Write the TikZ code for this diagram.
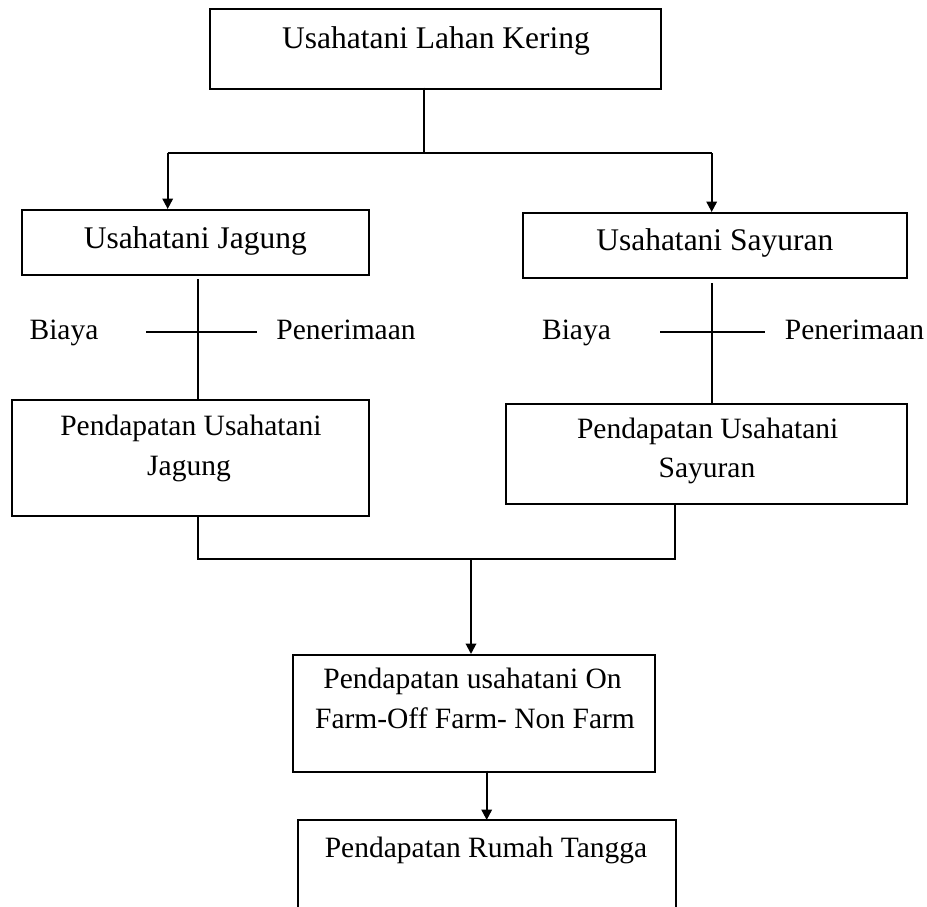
\documentclass[tikz,border=0pt]{standalone}
\usepackage{fontspec}
\setmainfont{Liberation Serif}
\usetikzlibrary{arrows.meta}
\begin{document}
\begin{tikzpicture}[x=1pt,y=-1pt,
  box/.style={draw, line width=2pt, rectangle, inner sep=0pt, anchor=north west},
  txt/.style={inner sep=0pt, anchor=base, font=\fontsize{29.5}{36}\selectfont},
  bigtxt/.style={inner sep=0pt, anchor=base, font=\fontsize{31.5}{38}\selectfont},
  conn/.style={line width=2pt},
  arr/.style={line width=2pt, -{Triangle[length=10.5pt,width=10.5pt]}}]
\useasboundingbox (0,0) rectangle (927,907);
% boxes
\node[box, minimum width=451pt, minimum height=79.4pt] (b1) at (209,8.3) {};
\node[box, minimum width=347.3pt, minimum height=65pt] (b2) at (20.7,209) {};
\node[box, minimum width=384.6pt, minimum height=65pt] (b3) at (521.7,212) {};
\node[box, minimum width=357.3pt, minimum height=116pt] (b4) at (10.7,399) {};
\node[box, minimum width=401pt, minimum height=100.3pt] (b5) at (505,402.7) {};
\node[box, minimum width=362.3pt, minimum height=116.7pt] (b6) at (291.7,654) {};
\node[box, draw=none, minimum width=376.3pt, minimum height=87pt] (b7) at (297.7,820) {};
\draw[conn] (b7.south west) -- (b7.north west) -- (b7.north east) -- (b7.south east);
% texts
\node[bigtxt] (t1) at (436,48.3) {Usahatani Lahan Kering};
\node[bigtxt] (t2) at (195.3,248.3) {Usahatani Jagung};
\node[bigtxt] (t3) at (714.8,250) {Usahatani Sayuran};
\node[txt] (bl) at (64,339) {Biaya};
\node[txt] (pl) at (346,339) {Penerimaan};
\node[txt] (br) at (576.5,339) {Biaya};
\node[txt] (pr) at (854.5,339) {Penerimaan};
\node[txt] (t4a) at (191,435) {Pendapatan Usahatani};
\node[txt] (t4b) at (189,475) {Jagung};
\node[txt] (t5a) at (707.7,438) {Pendapatan Usahatani};
\node[txt] (t5b) at (707,477) {Sayuran};
\node[txt] (t6a) at (472.5,688) {Pendapatan usahatani On};
\node[txt] (t6b) at (475,728) {Farm-Off Farm- Non Farm};
\node[txt] (t7) at (486,857) {Pendapatan Rumah Tangga};
% coordinates
\coordinate (s1) at (424,87.7);
\coordinate (j1) at (424,153);
\coordinate (jl) at (167.7,153);
\coordinate (jr) at (711.7,153);
\coordinate (v2a) at (198,279);
\coordinate (v2b) at (198,399);
\coordinate (c2l) at (146,332.3);
\coordinate (c2r) at (257,332.3);
\coordinate (v3a) at (712,283);
\coordinate (v3b) at (712,402.7);
\coordinate (c3l) at (660,332.3);
\coordinate (c3r) at (765,332.3);
\coordinate (m4) at (198,515);
\coordinate (m4b) at (198,559);
\coordinate (m5) at (674.7,503);
\coordinate (m5b) at (674.7,559);
\coordinate (mj) at (471,559);
\coordinate (d6) at (486.7,770.7);
% connectors
\draw[conn] (s1) -- (j1);
\draw[conn] (jl) -- (jr);
\draw[arr] (jl) -- (jl |- b2.north);
\draw[arr] (jr) -- (jr |- b3.north);
\draw[conn] (v2a) -- (v2b);
\draw[conn] (c2l) -- (c2r);
\draw[conn] (v3a) -- (v3b);
\draw[conn] (c3l) -- (c3r);
\draw[conn] (m4) -- (m4b) -- (m5b) -- (m5);
\draw[arr] (mj) -- (mj |- b6.north);
\draw[arr] (d6) -- (d6 |- b7.north);
\end{tikzpicture}
\end{document}
